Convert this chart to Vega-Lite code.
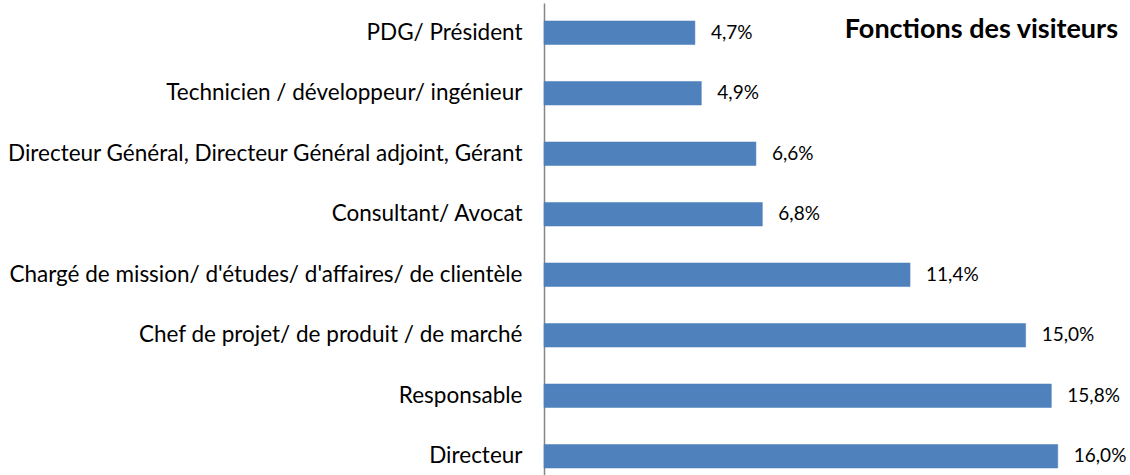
{
  "$schema": "https://vega.github.io/schema/vega-lite/v6.json",
  "width": 586,
  "height": 483,
  "autosize": {"type": "none"},
  "padding": {"left": 544, "top": 3, "right": 0, "bottom": 0},
  "background": "white",
  "title": {
    "text": "Fonctions des visiteurs",
    "anchor": "end",
    "frame": "group",
    "orient": "top",
    "offset": -41,
    "dx": -12,
    "font": "Lato",
    "fontSize": 27,
    "fontWeight": "bold",
    "color": "#000000"
  },
  "data": {
    "values": [
      {"fonction": "PDG/ Président", "part": 4.7, "label": "4,7%"},
      {"fonction": "Technicien / développeur/ ingénieur", "part": 4.9, "label": "4,9%"},
      {"fonction": "Directeur Général, Directeur Général adjoint, Gérant", "part": 6.6, "label": "6,6%"},
      {"fonction": "Consultant/ Avocat", "part": 6.8, "label": "6,8%"},
      {"fonction": "Chargé de mission/ d'études/ d'affaires/ de clientèle", "part": 11.4, "label": "11,4%"},
      {"fonction": "Chef de projet/ de produit / de marché", "part": 15.0, "label": "15,0%"},
      {"fonction": "Responsable", "part": 15.8, "label": "15,8%"},
      {"fonction": "Directeur", "part": 16.0, "label": "16,0%"}
    ]
  },
  "encoding": {
    "y": {
      "field": "fonction",
      "type": "nominal",
      "sort": null,
      "scale": {"paddingInner": 0.611, "paddingOuter": 0.297},
      "axis": {
        "title": null,
        "ticks": false,
        "labelFont": "Lato",
        "labelFontSize": 22.5,
        "labelColor": "#000000",
        "labelPadding": 22,
        "labelLimit": 600,
        "domainColor": "#868686",
        "domainWidth": 1.5
      }
    },
    "x": {
      "field": "part",
      "type": "quantitative",
      "scale": {"domain": [0, 18.25], "nice": false},
      "axis": null
    }
  },
  "layer": [
    {"mark": {"type": "bar", "color": "#4F81BD", "stroke": "#4A7EBB", "strokeWidth": 0.5}},
    {
      "mark": {"type": "text", "align": "left", "baseline": "middle", "dx": 16, "font": "Lato", "fontSize": 19, "color": "#000000"},
      "encoding": {"text": {"field": "label"}}
    }
  ],
  "config": {"view": {"stroke": null}}
}
